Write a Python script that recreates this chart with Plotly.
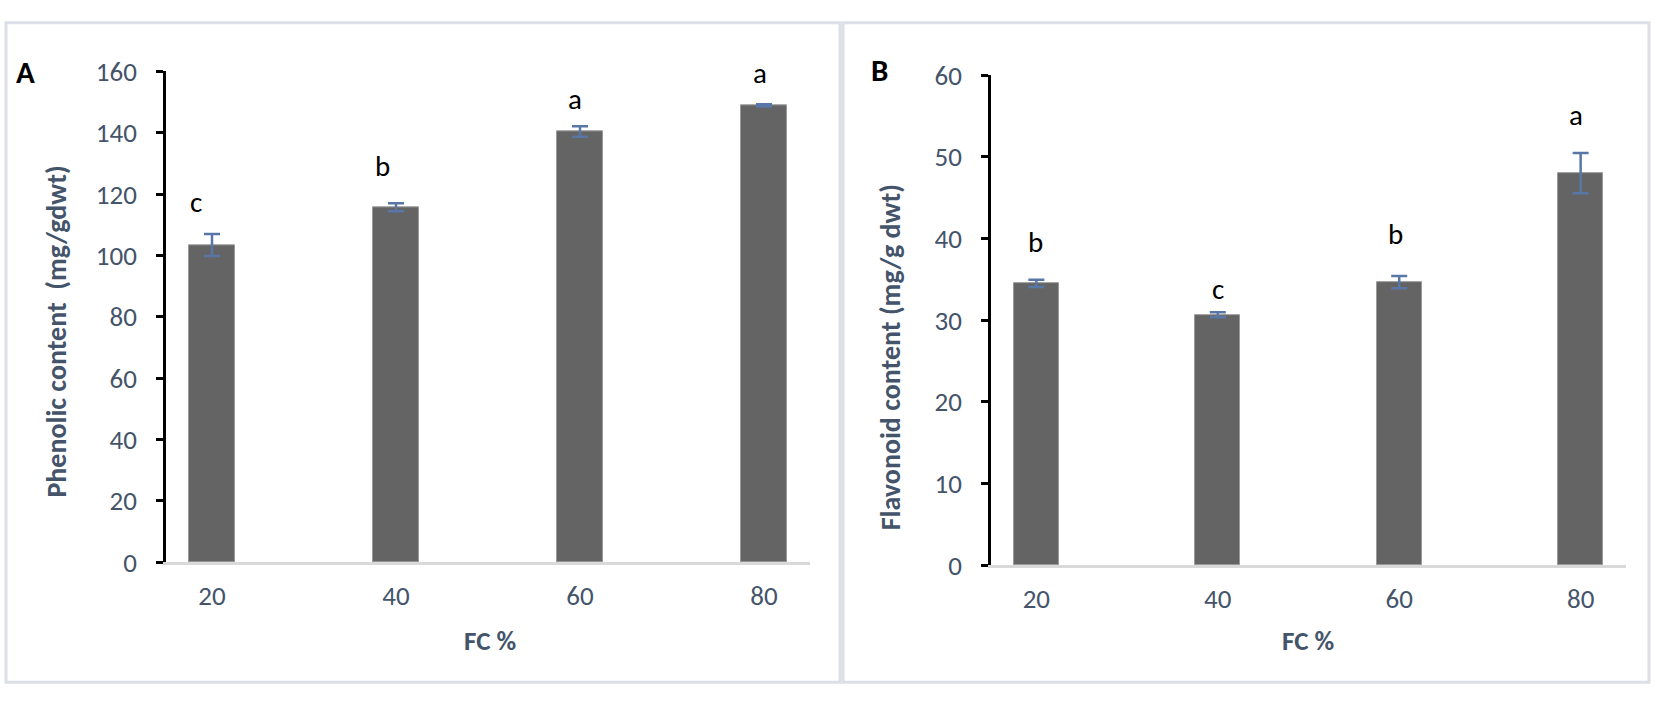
import plotly.graph_objects as go

# FC levels and measured means / errors
fc = [20, 40, 60, 80]
phenolic = [103.4, 115.7, 140.4, 148.9]
phenolic_err = [3.6, 1.3, 1.7, 0.4]
phenolic_letters = ["c", "b", "a", "a"]

flavonoid = [34.5, 30.65, 34.65, 48.0]
flavonoid_err = [0.43, 0.3, 0.75, 2.45]
flavonoid_letters = ["b", "c", "b", "a"]

W, H = 1657, 705
FONT = "Carlito, Calibri, Lato, sans-serif"
SLATE = "#44546A"


def px(x):
    return x / W


def py(y):
    return 1 - y / H


fig = go.Figure()

for vals, errs, xa, ya in [(phenolic, phenolic_err, "x", "y"),
                           (flavonoid, flavonoid_err, "x2", "y2")]:
    fig.add_trace(go.Bar(
        x=fc, y=vals, width=5, xaxis=xa, yaxis=ya,
        marker=dict(color="#646464", line=dict(color="#9a9a9a", width=1)),
        error_y=dict(type="data", array=errs, visible=True,
                     color="#5877A6", thickness=2.5, width=8),
        showlegend=False,
    ))

axis_x = dict(range=[15, 85], tickvals=fc, ticktext=[str(v) for v in fc],
              showline=True, linecolor="#D9D9D9", linewidth=2.5,
              showgrid=False, zeroline=False, ticks="",
              ticklabelstandoff=8,
              tickfont=dict(family=FONT, size=27, color=SLATE))
axis_y = dict(showline=True, linecolor="black", linewidth=2.5,
              ticks="outside", ticklen=7, tickwidth=2.5, tickcolor="black",
              showgrid=False, zeroline=False, ticklabelstandoff=14,
              tickfont=dict(family=FONT, size=27, color=SLATE))

fig.update_layout(
    width=W, height=H,
    margin=dict(l=0, r=0, t=0, b=0),
    paper_bgcolor="white", plot_bgcolor="white",
    xaxis=dict(axis_x, domain=[px(166), px(810)], anchor="y"),
    yaxis=dict(axis_y, domain=[py(572), py(57)], range=[0, 160],
               dtick=20, anchor="x"),
    xaxis2=dict(axis_x, domain=[px(991), px(1626)], anchor="y2"),
    yaxis2=dict(axis_y, domain=[py(575), py(61)], range=[0, 60],
                dtick=10, anchor="x2"),
    bargap=0,
)

# significance letters above the error bars
gaps_a = [19, 24, 14, 18]
shift_a = [-16, -14, -5, -4]
gaps_b = [25, 10, 29, 25]
shift_b = [-1, 0, -4, -5]
for vals, errs, letters, gaps, shifts, xr, yr in [
        (phenolic, phenolic_err, phenolic_letters, gaps_a, shift_a, "x", "y"),
        (flavonoid, flavonoid_err, flavonoid_letters, gaps_b, shift_b, "x2", "y2")]:
    for xv, v, e, t, g, s in zip(fc, vals, errs, letters, gaps, shifts):
        fig.add_annotation(x=xv, y=v + e, xref=xr, yref=yr, text=t,
                           showarrow=False, xanchor="center", yanchor="bottom",
                           yshift=g - 7, xshift=s,
                           font=dict(family=FONT, size=29, color="black"))


def paper_text(x, y, text, size, color, angle=0):
    fig.add_annotation(x=px(x), y=py(y), xref="paper", yref="paper",
                       text=text, textangle=angle, showarrow=False,
                       xanchor="center", yanchor="middle",
                       font=dict(family=FONT, size=size, color=color,
                                 weight="bold"))


# axis titles and panel letters
paper_text(57, 330, "Phenolic content  (mg/gdwt)", 28, SLATE, -90)
paper_text(890, 357, "Flavonoid content (mg/g dwt)", 28, SLATE, -90)
paper_text(490, 654, "FC %", 27, SLATE)
paper_text(1308, 654, "FC %", 27, SLATE)
paper_text(25, 58, "A", 31, "black")
paper_text(879, 56, "B", 31, "black")

# panel frames
for x0, x1 in [(6, 840), (843, 1649)]:
    fig.add_shape(type="rect", xref="paper", yref="paper",
                  x0=px(x0), x1=px(x1), y0=py(698), y1=py(6),
                  line=dict(color="#DCDFE5", width=3))

fig.write_html("out.html", config={"displayModeBar": False},
               post_script="document.body.style.margin='0';")
